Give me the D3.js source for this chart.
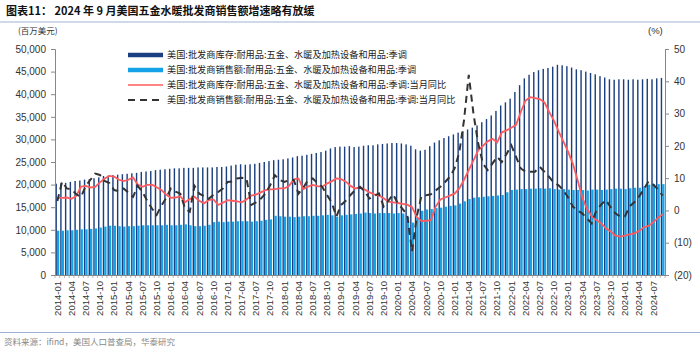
<!DOCTYPE html>
<html>
<head>
<meta charset="utf-8">
<script src="https://cdn.jsdelivr.net/npm/d3@7"></script>
<style>
  body { margin: 0; background: #fff; }
  svg { font-family: "Liberation Sans", Arial, sans-serif; }
</style>
</head>
<body>
<div id="chart"></div>
<script>
// Données : 2014-01 -> 2024-09
const startYear = 2014, nMonths = 129;
const months = d3.range(nMonths).map(i => {
  const y = startYear + Math.floor(i / 12), m = i % 12 + 1;
  return y + '-' + String(m).padStart(2, '0');
});

// Stocks, milliers de millions USD
const inventory = [
  20.2, 20.3, 20.4, 20.6, 20.8, 20.9, 21.1, 21.2, 21.4, 21.6, 21.9, 22.0,
  22.1, 22.2, 22.3, 22.4, 22.5, 22.6, 22.8, 22.9, 23.0, 23.2, 23.3, 23.4,
  23.5, 23.6, 23.6, 23.7, 23.7, 23.7, 23.8, 23.8, 23.8, 23.8, 23.9, 23.9,
  24.0, 24.2, 24.4, 24.5, 24.4, 24.5, 24.6, 24.8, 25.0, 25.2, 25.4, 25.5,
  25.6, 25.8, 26.0, 26.3, 26.4, 26.6, 26.8, 27.0, 27.2, 27.5, 28.0, 28.3,
  28.4, 28.4, 28.5, 28.3, 28.4, 28.6, 28.7, 28.7, 28.9, 29.0, 29.1, 29.2,
  29.2, 29.1, 28.9, 28.6, 27.8, 27.5, 27.7, 28.5, 29.3, 29.8, 30.3, 30.7,
  31.1, 31.5, 31.8, 32.2, 32.6, 33.1, 33.8, 34.5, 35.3, 36.3, 37.5, 38.2,
  39.0, 40.5, 42.0, 43.5, 44.3, 44.9, 45.3, 45.6, 45.8, 46.1, 46.5, 46.4,
  46.2, 45.9, 45.5, 45.3, 45.0, 44.7, 44.4, 44.0, 43.7, 43.3, 43.2, 43.3,
  43.3, 43.2, 43.3, 43.2, 43.3, 43.4, 43.3, 43.5, 43.6
].map(v => v * 1000);

// Ventes
const sales = [
  9.8, 9.8, 9.9, 9.9, 10.0, 10.1, 10.1, 10.2, 10.3, 10.5, 10.7, 10.9,
  10.9, 10.8, 10.7, 10.8, 10.8, 10.9, 11.0, 11.0, 11.0, 11.0, 11.0, 11.1,
  11.0, 11.0, 11.1, 11.2, 11.0, 10.8, 10.8, 10.9, 11.1, 11.7, 11.8, 11.7,
  11.8, 11.8, 11.9, 11.9, 11.9, 11.8, 11.9, 12.0, 12.2, 12.3, 13.1, 13.0,
  12.9, 12.9, 12.8, 12.9, 13.0, 13.0, 13.1, 13.1, 13.2, 13.3, 13.2, 12.9,
  13.2, 13.3, 13.4, 13.5, 13.6, 13.8, 13.7, 13.6, 13.7, 13.7, 13.7, 13.6,
  13.7, 13.6, 12.8, 11.6, 12.6, 14.2, 14.5, 14.6, 14.8, 14.9, 15.1, 15.3,
  15.4, 15.8, 16.3, 16.8, 17.1, 17.2, 17.3, 17.4, 17.5, 17.6, 17.7, 18.3,
  18.8, 18.9, 19.0, 19.0, 19.1, 19.1, 19.2, 19.1, 19.2, 19.0, 18.9, 19.0,
  18.9, 18.8, 18.8, 18.8, 18.7, 18.9, 18.9, 18.8, 18.9, 19.0, 19.1, 19.1,
  19.0, 19.2, 19.3, 19.3, 19.6, 20.0, 20.1, 20.1, 20.1
].map(v => v * 1000);

// Stocks : glissement annuel (%)
const inventoryYoY = [
  3.9, 3.9, 4.0, 3.6, 4.5, 7.4, 7.6, 7.1, 7.3, 8.7, 9.9, 10.7,
  10.5, 9.5, 9.1, 9.5, 10.2, 8.0, 7.3, 7.9, 8.0, 7.2, 6.3, 4.9,
  3.9, 4.0, 4.4, 2.5, 3.5, 4.2, 3.0, 2.2, 3.2, 3.4, 1.7, 2.4,
  3.2, 3.0, 2.8, 2.5, 3.4, 4.6, 4.9, 5.6, 6.3, 6.5, 6.6, 6.8,
  6.8, 7.6, 9.6, 9.9, 6.6, 7.4, 7.9, 7.5, 7.3, 8.3, 9.0, 9.9,
  9.7, 8.9, 7.6, 6.8, 7.1, 6.5, 5.6, 5.0, 4.6, 3.8, 2.7, 2.5,
  2.3, 2.0, 1.8, 1.0, -2.0, -3.3, -3.2, -3.0, 1.2, 3.4, 4.0, 4.6,
  5.2, 6.8, 9.5, 12.5, 15.5, 18.6, 20.0, 21.4, 22.2, 21.1, 24.2, 24.8,
  25.6, 26.5, 30.5, 34.0, 35.1, 34.8, 34.5, 33.5, 30.5, 27.8, 24.5, 21.4,
  18.2, 14.5, 9.5, 4.0, 0.5, -1.8, -3.0, -4.0, -5.5, -6.5, -7.8, -8.1,
  -7.8, -7.4, -7.1, -6.4, -5.2, -4.8, -3.7, -2.3, -1.2
];

// Ventes : glissement annuel (%)
const salesYoY = [
  2.9, 8.9, 6.8, 6.5, 5.0, 4.2, 7.6, 9.5, 11.4, 11.0, 9.1, 8.5,
  6.3, 6.0, 6.8, 5.5, 4.2, 7.6, 5.7, 3.0, 0.6, -1.4, 1.5, 3.8,
  6.8, 5.8, 5.2, 0.6, -0.4, 7.6, 5.2, 4.5, 3.6, 4.8, 5.7, 6.8,
  8.8, 9.0, 9.9, 10.1, 9.9, 1.7, 2.5, 3.6, 5.2, 7.8, 10.9, 9.5,
  8.8, 9.4, 9.4, 5.2, 7.0, 9.4, 9.9, 8.5, 7.3, 4.8, 2.5, -1.9,
  1.7, 3.0, 4.8, 6.3, 7.3, 6.0, 3.7, 4.5, 5.3, 1.2, 3.0, 5.0,
  2.2, 0.5, -1.4, -12.7, -1.9, 4.5, 4.7, 5.0, 6.2, 7.3, 8.8, 10.4,
  13.0, 18.0, 28.0, 42.0, 29.9, 20.7, 14.5, 12.5, 14.5, 16.6, 15.0, 17.5,
  20.2, 16.6, 13.0, 12.0, 12.0, 12.0, 13.5, 12.0, 10.4, 8.5, 7.8, 6.3,
  4.0, 1.2, 0.0, -0.9, -2.5, -4.0, 0.1, 1.8, 3.2, 1.0, -0.9, -1.9,
  -1.9, 1.2, 2.5, 4.3, 6.5, 9.0, 8.0, 6.5, 4.6
];

const leftTicks = d3.range(0, 50001, 5000);
const rightTicks = d3.range(-20, 51, 10);

const legendLabels = [
  '美国:批发商库存:耐用品:五金、水暖及加热设备和用品:季调',
  '美国:批发商销售额:耐用品:五金、水暖及加热设备和用品:季调',
  '美国:批发商库存:耐用品:五金、水暖及加热设备和用品:季调:当月同比',
  '美国:批发商销售额:耐用品:五金、水暖及加热设备和用品:季调:当月同比'
];

const title = '图表11：  2024 年 9 月美国五金水暖批发商销售额增速略有放缓';
const unitLeft = '(百万美元)';
const unitRight = '(%)';
const source = '资料来源：ifind，美国人口普查局，华泰研究';

// Mise en page
const W = 700, H = 350;
const plot = {left: 55, right: 665, top: 49, bottom: 275};
const cDark = '#1c407f', cLight = '#14a2e8', cRed = '#ff5b5e', cDash = '#333333';
const cjk = '"Noto Sans CJK SC", sans-serif';

const svg = d3.select('#chart').append('svg')
  .attr('width', W).attr('height', H);

// Titre + filets
svg.append('text')
  .attr('x', 6).attr('y', 15)
  .style('font-family', cjk).style('font-weight', 'bold').style('font-size', '11px')
  .attr('fill', '#111')
  .text(title);
svg.append('line').attr('x1', 0).attr('x2', W).attr('y1', 22).attr('y2', 22)
  .attr('stroke', '#9fb3d1').attr('stroke-width', 1);
svg.append('line').attr('x1', 0).attr('x2', W).attr('y1', 332.5).attr('y2', 332.5)
  .attr('stroke', '#9fb3d1').attr('stroke-width', 1);
svg.append('text')
  .attr('x', 4).attr('y', 345)
  .style('font-family', cjk).style('font-size', '8.5px').attr('fill', '#888')
  .text(source);

svg.append('text').attr('x', 18).attr('y', 34)
  .style('font-family', cjk).style('font-size', '8.5px').attr('fill', '#333')
  .text(unitLeft);
svg.append('text').attr('x', 648).attr('y', 34)
  .style('font-size', '9.5px').attr('fill', '#333')
  .text(unitRight);

// Echelles
const x = d3.scaleBand().domain(months).range([plot.left, plot.right]).padding(0);
const yL = d3.scaleLinear().domain([0, 50000]).range([plot.bottom, plot.top]);
const yR = d3.scaleLinear().domain([-20, 50]).range([plot.bottom, plot.top]);
const bw = x.bandwidth();

// Barres
const bars = svg.append('g');
bars.selectAll('rect.inv')
  .data(months)
  .join('rect')
    .attr('class', 'inv')
    .attr('x', d => x(d) + bw * 0.1)
    .attr('width', bw * 0.3)
    .attr('y', (d, i) => yL(inventory[i]))
    .attr('height', (d, i) => yL(0) - yL(inventory[i]))
    .attr('fill', cDark);
bars.selectAll('rect.sal')
  .data(months)
  .join('rect')
    .attr('class', 'sal')
    .attr('x', d => x(d) + bw * 0.4)
    .attr('width', bw * 0.5)
    .attr('y', (d, i) => yL(sales[i]))
    .attr('height', (d, i) => yL(0) - yL(sales[i]))
    .attr('fill', cLight);

// Courbes
const line = d3.line()
  .x((d, i) => x(months[i]) + bw / 2)
  .y(d => yR(d));
svg.append('path').datum(inventoryYoY)
  .attr('d', line).attr('fill', 'none')
  .attr('stroke', cRed).attr('stroke-width', 1.8);
svg.append('path').datum(salesYoY)
  .attr('d', line).attr('fill', 'none')
  .attr('stroke', cDash).attr('stroke-width', 2)
  .attr('stroke-dasharray', '7,5');

// Axes
const axisColor = '#888';
const gL = svg.append('g')
  .attr('transform', `translate(${plot.left},0)`)
  .call(d3.axisLeft(yL).tickValues(leftTicks).tickSize(4).tickPadding(5)
    .tickFormat(d3.format(',')));
const gR = svg.append('g')
  .attr('transform', `translate(${plot.right},0)`)
  .call(d3.axisRight(yR).tickValues(rightTicks).tickSize(4).tickPadding(5)
    .tickFormat(d => d < 0 ? `(${-d})` : d));
const gB = svg.append('g')
  .attr('transform', `translate(0,${plot.bottom})`)
  .call(d3.axisBottom(x)
    .tickValues(months.filter((d, i) => i % 3 === 0))
    .tickSize(0).tickPadding(4));
gB.selectAll('text')
  .attr('transform', 'rotate(-90)')
  .attr('x', -6).attr('y', 0).attr('dy', '0.35em')
  .style('text-anchor', 'end');

// petits traits de l'axe X, un par mois
svg.append('g').selectAll('line')
  .data(months.concat(['end']))
  .join('line')
    .attr('x1', d => d === 'end' ? plot.right : x(d))
    .attr('x2', d => d === 'end' ? plot.right : x(d))
    .attr('y1', plot.bottom).attr('y2', plot.bottom + 3)
    .attr('stroke', axisColor).attr('stroke-width', 0.6);

[gL, gR, gB].forEach(g => {
  g.selectAll('.domain').attr('stroke', axisColor);
  g.selectAll('.tick line').attr('stroke', axisColor);
  g.selectAll('text').attr('fill', '#333').style('font-size', '10px')
    .style('font-family', '"Liberation Sans", Arial, sans-serif');
});
gB.selectAll('text').style('font-size', '9.5px');

// Légende
const legend = svg.append('g').attr('transform', 'translate(128,55)');
const legendRows = legend.selectAll('g')
  .data(legendLabels)
  .join('g')
    .attr('transform', (d, i) => `translate(0,${i * 15})`);
legendRows.append('line')
  .attr('x1', 0).attr('x2', 35).attr('y1', 0).attr('y2', 0)
  .attr('stroke', (d, i) => [cDark, cLight, cRed, cDash][i])
  .attr('stroke-width', (d, i) => [4.5, 4.5, 1.5, 2][i])
  .attr('stroke-dasharray', (d, i) => i === 3 ? '7,5' : null);
legendRows.append('text')
  .attr('x', 39).attr('y', 0).attr('dy', '0.35em')
  .style('font-family', cjk).style('font-size', '9.2px').attr('fill', '#222')
  .text(d => d);
</script>
</body>
</html>
